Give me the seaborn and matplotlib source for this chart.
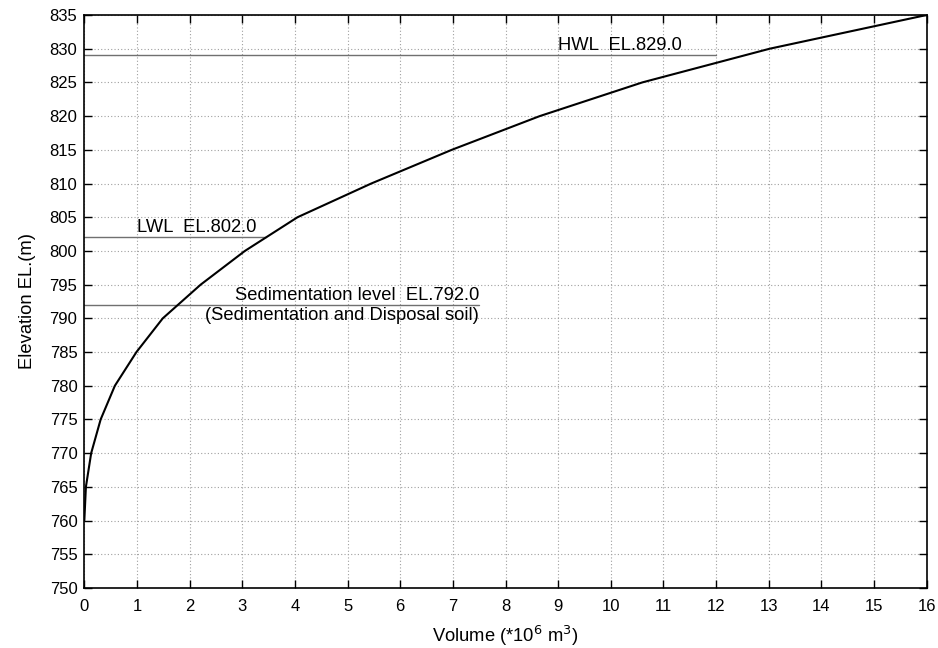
import seaborn as sns
import pandas as pd
import matplotlib.pyplot as plt

# Courbe hauteur-volume du reservoir
volume = [0.0, 0.03, 0.13, 0.31, 0.58, 0.99, 1.49, 2.21, 3.05, 4.05, 5.45, 6.98, 8.65, 10.6, 13.02, 16.0]
elevation = [760, 765, 770, 775, 780, 785, 790, 795, 800, 805, 810, 815, 820, 825, 830, 835]

# Niveaux de reference
level_names = ["HWL  EL.829.0", "LWL  EL.802.0", "Sedimentation level  EL.792.0"]
level_values = [829.0, 802.0, 792.0]
level_ends = [12.0, 3.45, 7.5]

sns.set_theme(style="ticks", rc={"text.color": "black", "axes.labelcolor": "black"})
plt.rcParams['font.family'] = ['Liberation Sans', 'DejaVu Sans']

data = pd.DataFrame({"volume": volume, "elevation": elevation})

fig = plt.figure(figsize=(9.38, 6.48), dpi=100)
ax = fig.add_axes([0.0899, 0.0926, 0.8981, 0.8843])

ax.grid(True, color="#a0a0a0", linestyle=(0, (1, 2)), linewidth=0.8)
ax.set_axisbelow(True)

for name, val, end in zip(level_names, level_values, level_ends):
    ax.plot([0, end], [val, val], color="#707070", linewidth=1.0)

sns.lineplot(data=data, x="volume", y="elevation", color="black", linewidth=1.5, ax=ax)

fs = 13.2
ax.text(9.0, level_values[0] + 0.2, level_names[0], fontsize=fs, ha="left", va="bottom")
ax.text(1.0, level_values[1] + 0.2, level_names[1], fontsize=fs, ha="left", va="bottom")
ax.text(7.5, level_values[2] + 0.2, level_names[2], fontsize=fs, ha="right", va="bottom")
ax.text(7.5, level_values[2] - 0.3, "(Sedimentation and Disposal soil)", fontsize=fs, ha="right", va="top")

ax.set_xlim(0, 16)
ax.set_ylim(750, 835)
ax.set_xticks(range(0, 17))
ax.set_yticks(range(750, 836, 5))
ax.tick_params(direction="in", length=6, width=1, top=True, right=True, labelsize=12, colors="black")
ax.tick_params(axis="x", pad=8)
ax.tick_params(axis="y", pad=5)
for s in ax.spines.values():
    s.set_color("black")
    s.set_linewidth(1.2)

ax.set_xlabel("Volume (*10$^{6}$ m$^{3}$)", fontsize=fs, labelpad=7)
ax.set_ylabel("Elevation EL.(m)", fontsize=fs, labelpad=10)

plt.savefig("out.png", dpi=100)
